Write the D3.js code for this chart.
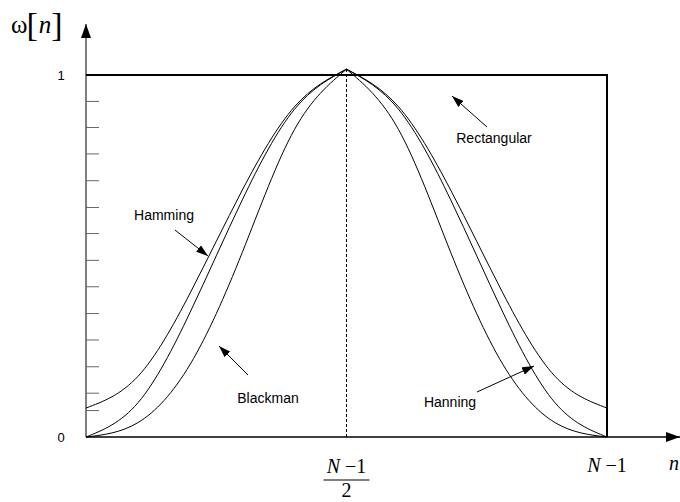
<!DOCTYPE html>
<html>
<head>
<meta charset="utf-8">
<script src="https://cdn.jsdelivr.net/npm/d3@7"></script>
<style>
  html, body { margin: 0; padding: 0; background: #fff; }
  svg { display: block; }
</style>
</head>
<body>
<svg id="chart" width="680" height="502"></svg>
<script>
// Normalised sample position n/(N-1) along the window
const positions = [0, 0.1, 0.2, 0.3, 0.4, 0.5, 0.6, 0.7, 0.8, 0.9, 1];

// Window values at those positions
const hamming  = [0.080, 0.168, 0.398, 0.682, 0.912, 1.016, 0.912, 0.682, 0.398, 0.168, 0.080];
const hanning  = [0.000, 0.095, 0.345, 0.655, 0.905, 1.016, 0.905, 0.655, 0.345, 0.095, 0.000];
const blackman = [0.000, 0.040, 0.201, 0.510, 0.849, 1.016, 0.849, 0.510, 0.201, 0.040, 0.000];

// Rectangular window: flat at 1 across the whole length
const rectPositions = [0, 1];
const rectangular   = [1, 1];

// Minor tick marks up the amplitude axis, and the labelled ones
const minorTicks = [0.073, 0.121, 0.194, 0.268, 0.341, 0.415, 0.488, 0.562,
                    0.634, 0.708, 0.782, 0.855, 0.927];
const yTickLabels = [{ v: 0, text: "0" }, { v: 1, text: "1" }];

const calloutNames = ["Rectangular", "Hamming", "Blackman", "Hanning"];

const svg = d3.select("#chart");

const x = d3.scaleLinear().domain([0, 1]).range([86, 607]);
const y = d3.scaleLinear().domain([0, 1]).range([437, 75]);

// Arrow head markers
const defs = svg.append("defs");
function marker(id, w, h) {
  defs.append("marker")
    .attr("id", id)
    .attr("viewBox", `0 0 ${w} ${h}`)
    .attr("refX", w).attr("refY", h / 2)
    .attr("markerWidth", w).attr("markerHeight", h)
    .attr("markerUnits", "userSpaceOnUse")
    .attr("orient", "auto")
    .append("path")
    .attr("d", `M0,0 L${w},${h / 2} L0,${h} Z`)
    .attr("fill", "#000");
}
marker("axisHead", 14, 10);
marker("callHead", 12, 8);

// Axes
svg.append("line")
  .attr("x1", x(0)).attr("y1", y(0))
  .attr("x2", x(0)).attr("y2", 24)
  .attr("stroke", "#000").attr("stroke-width", 1)
  .attr("marker-end", "url(#axisHead)");
svg.append("line")
  .attr("x1", x(0)).attr("y1", y(0))
  .attr("x2", 680).attr("y2", y(0))
  .attr("stroke", "#000").attr("stroke-width", 1.3)
  .attr("marker-end", "url(#axisHead)");

// Minor ticks
svg.append("g").selectAll("line")
  .data(minorTicks)
  .join("line")
  .attr("x1", x(0)).attr("x2", x(0) + 13)
  .attr("y1", d => y(d)).attr("y2", d => y(d))
  .attr("stroke", "#666").attr("stroke-width", 1);

// Labelled ticks
svg.append("g").selectAll("text")
  .data(yTickLabels)
  .join("text")
  .attr("x", 61).attr("y", d => y(d.v) + 5)
  .attr("text-anchor", "middle")
  .attr("font-family", "Liberation Sans, Arial, sans-serif")
  .attr("font-size", 13)
  .text(d => d.text);

// Centre line at (N-1)/2
svg.append("line")
  .attr("x1", x(0.5)).attr("x2", x(0.5))
  .attr("y1", y(0)).attr("y2", y(1.016))
  .attr("stroke", "#000").attr("stroke-width", 1)
  .attr("stroke-dasharray", "3,2");

// Rectangular window
svg.append("path")
  .attr("d", d3.line()([
    [x(rectPositions[0]), y(rectangular[0])],
    [x(rectPositions[1]), y(rectangular[1])],
    [x(rectPositions[1]), y(0)]
  ]))
  .attr("fill", "none").attr("stroke", "#000").attr("stroke-width", 2);

// Tapered windows, each drawn as two smooth halves meeting at the centre
const half = positions.indexOf(0.5);
const smooth = d3.line().x(d => x(d[0])).y(d => y(d[1])).curve(d3.curveNatural);
[hamming, hanning, blackman].forEach(series => {
  const pts = positions.map((p, i) => [p, series[i]]);
  [pts.slice(0, half + 1), pts.slice(half)].forEach(seg => {
    svg.append("path")
      .attr("d", smooth(seg))
      .attr("fill", "none").attr("stroke", "#000").attr("stroke-width", 1);
  });
});

// Callouts
const callouts = [
  { name: calloutNames[0], tx: 494, ty: 143, from: [487, 127], to: [452, 96] },
  { name: calloutNames[1], tx: 164, ty: 220, from: [175, 230], to: [208, 256] },
  { name: calloutNames[2], tx: 268, ty: 403, from: [248, 375], to: [219, 346] },
  { name: calloutNames[3], tx: 450, ty: 407, from: [477, 392], to: [534, 366] }
];
callouts.forEach(c => {
  svg.append("line")
    .attr("x1", c.from[0]).attr("y1", c.from[1])
    .attr("x2", c.to[0]).attr("y2", c.to[1])
    .attr("stroke", "#000").attr("stroke-width", 1)
    .attr("marker-end", "url(#callHead)");
  svg.append("text")
    .attr("x", c.tx).attr("y", c.ty)
    .attr("text-anchor", "middle")
    .attr("font-family", "Liberation Sans, Arial, sans-serif")
    .attr("font-size", 14)
    .text(c.name);
});

// Axis titles in math style
const serif = "Liberation Serif, Times New Roman, serif";
const yTitle = svg.append("text")
  .attr("x", 11).attr("y", 33)
  .attr("font-family", serif).attr("font-size", 25);
yTitle.append("tspan").text("ω");
yTitle.append("tspan").attr("font-size", 34).attr("dy", 3).attr("dx", -1).text("[");
yTitle.append("tspan").attr("font-style", "italic").attr("font-size", 25).attr("dy", -3).attr("dx", 1).text("n");
yTitle.append("tspan").attr("font-size", 34).attr("dy", 3).attr("dx", 0).text("]");

svg.append("text")
  .attr("x", 669).attr("y", 470)
  .attr("font-family", serif).attr("font-size", 20)
  .attr("font-style", "italic")
  .text("n");

function nMinusOne(cx, baseline) {
  const t = svg.append("text")
    .attr("x", cx).attr("y", baseline)
    .attr("text-anchor", "middle")
    .attr("font-family", serif).attr("font-size", 20);
  t.append("tspan").attr("font-style", "italic").text("N");
  t.append("tspan").text(" −1");
  return t;
}
nMinusOne(x(0.5), 473);
svg.append("line")
  .attr("x1", x(0.5) - 23).attr("x2", x(0.5) + 23)
  .attr("y1", 480).attr("y2", 480)
  .attr("stroke", "#000").attr("stroke-width", 1);
svg.append("text")
  .attr("x", x(0.5)).attr("y", 497)
  .attr("text-anchor", "middle")
  .attr("font-family", serif).attr("font-size", 20)
  .text("2");
nMinusOne(x(1), 472);
</script>
</body>
</html>
